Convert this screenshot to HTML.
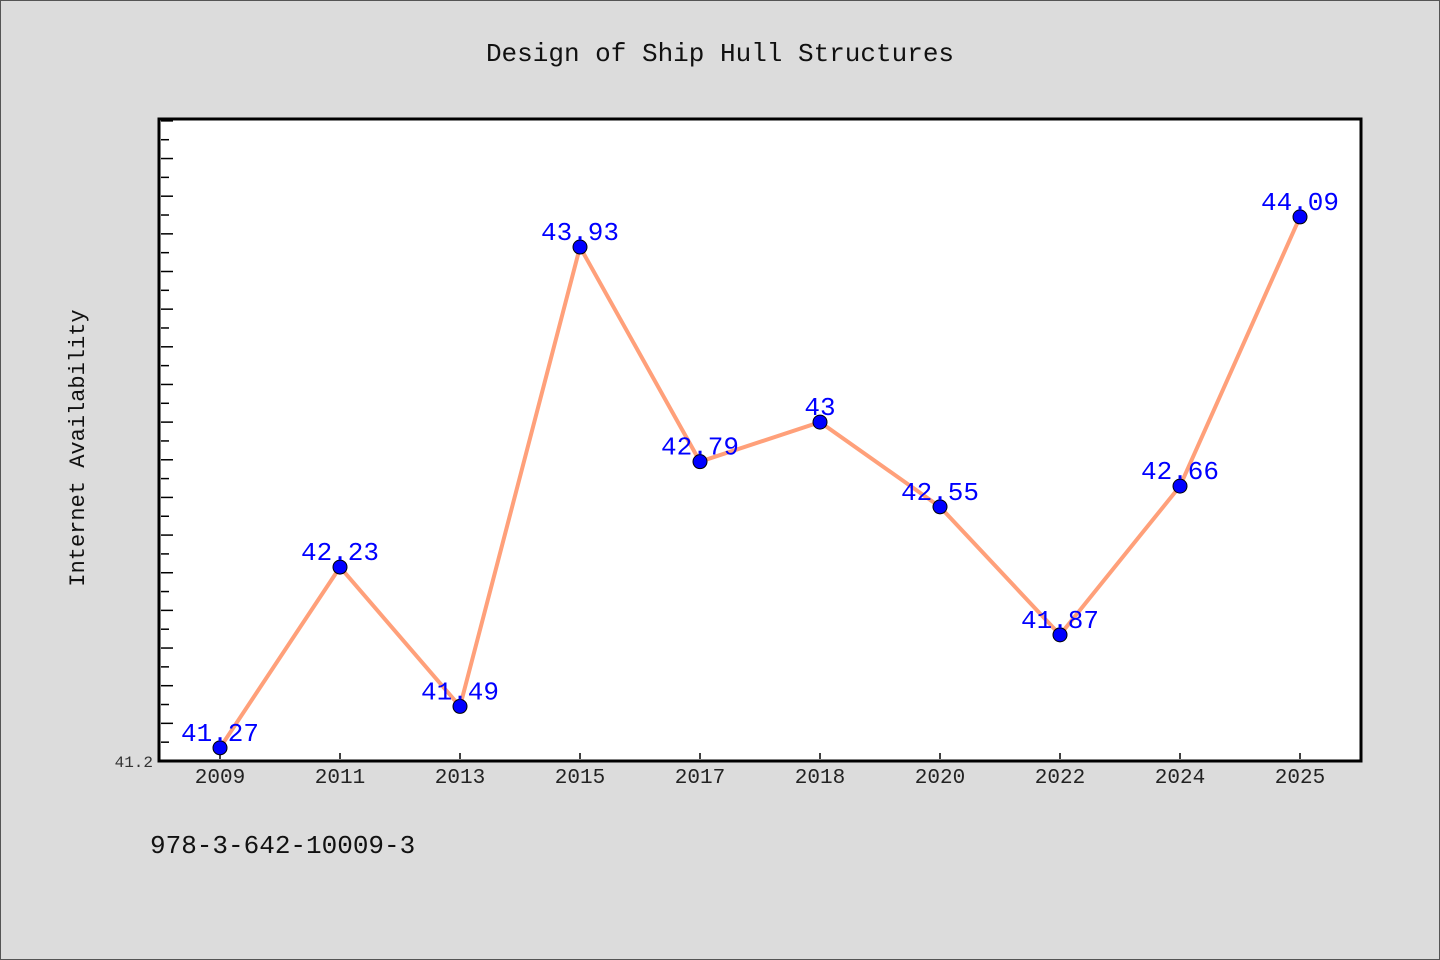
<!DOCTYPE html>
<html><head><meta charset="utf-8"><style>
body{margin:0;background:#dcdcdc}
svg{display:block}
text{font-family:"WenQuanYi Zen Hei Mono","Liberation Mono",monospace}
</style></head><body>
<svg id="c" width="1440" height="960" xmlns="http://www.w3.org/2000/svg">
<rect x="0.5" y="0.5" width="1439" height="959" fill="#dcdcdc" stroke="#555"/>
<text x="720" y="61" text-anchor="middle" font-size="26" fill="#111">Design of Ship Hull Structures</text>
<rect x="159" y="119" width="1202" height="642" fill="#fff" stroke="#000" stroke-width="3"/>
<text transform="translate(84,448) rotate(-90)" text-anchor="middle" font-size="22" fill="#111">Internet Availability</text>
<text x="150" y="853" font-size="26" fill="#111" font-family="Liberation Sans">978-3-642-10009-3</text>
<g id="g"></g>
</svg>
<script>
const categories=["2009","2011","2013","2015","2017","2018","2020","2022","2024","2025"];
const values=[41.27,42.23,41.49,43.93,42.79,43.0,42.55,41.87,42.66,44.09];
const labels=["41.27","42.23","41.49","43.93","42.79","43","42.55","41.87","42.66","44.09"];
const yMin=41.2, yMax=44.61;
const NS="http://www.w3.org/2000/svg";
const g=document.getElementById('g');
const x=i=>220+i*(1080/(categories.length-1));
const y=v=>761-(v-yMin)/(yMax-yMin)*642;
function mk(t,a){const e=document.createElementNS(NS,t);for(const k in a)e.setAttribute(k,a[k]);g.appendChild(e);return e;}
for(let k=1;k*0.1+yMin<yMax;k++){const v=yMin+k*0.1;const len=(k%2==0)?12:8;
 const t=mk('line',{x1:161,x2:161+len,y1:y(v),y2:y(v),stroke:'#000','stroke-width':1.5});
 
 }
const yl=mk('text',{x:153,y:767,'text-anchor':'end','font-size':16,fill:'#333'});yl.textContent=yMin.toFixed(1);


categories.forEach((c,i)=>{
 const t=mk('line',{x1:x(i),x2:x(i),y1:759,y2:753,stroke:'#000','stroke-width':1.5});
 
 
 const l=mk('text',{x:x(i),y:783,'text-anchor':'middle','font-size':21,fill:'#222','font-family':'Liberation Sans'});l.textContent=c;
 
 
});
const line=mk('polyline',{points:values.map((v,i)=>x(i)+','+y(v)).join(' '),fill:'none',stroke:'#ffa07a','stroke-width':4});


values.forEach((v,i)=>{
 const p=mk('circle',{cx:x(i),cy:y(v),r:7,fill:'#0000ff',stroke:'#000','stroke-width':1});
 
 
 const t=mk('text',{x:x(i),y:y(v)-7,'text-anchor':'middle','font-size':26,fill:'#0000ff','font-family':'Liberation Sans'});t.textContent=labels[i];
 
 
});
</script>
</body></html>
